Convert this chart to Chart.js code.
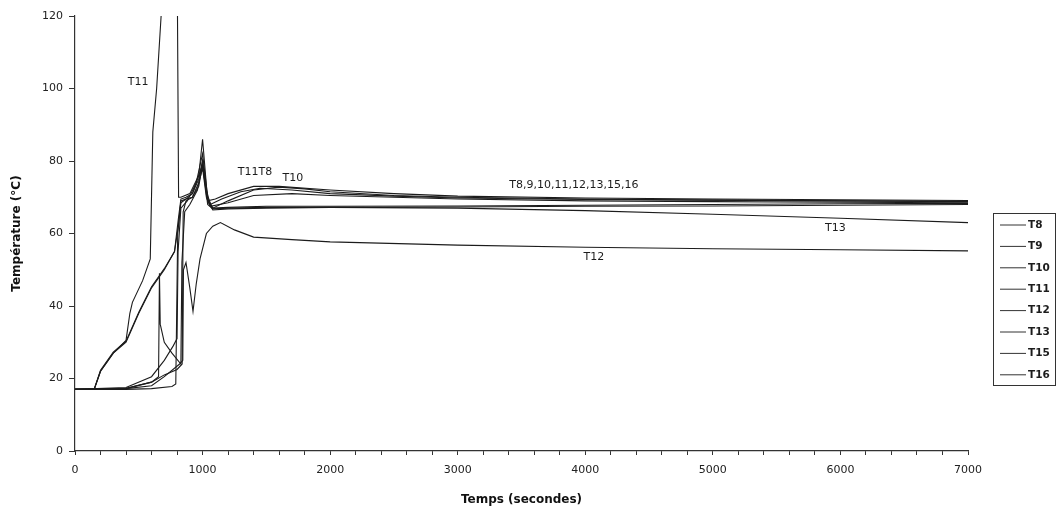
<!DOCTYPE html>
<html>
<head>
<meta charset="utf-8">
<script src="https://cdn.jsdelivr.net/npm/chart.js@4.4.1/dist/chart.umd.min.js"></script>
<style>
  html, body { margin: 0; padding: 0; background: #fff; }
  #wrap { width: 1062px; height: 511px; }
</style>
</head>
<body>
<div id="wrap"><canvas id="mycanvas" width="1062" height="511"></canvas></div>
<script>
// temps (s) et températures (°C)
var t8Time  = [0, 400, 600, 760, 790, 805, 830, 870, 920, 970, 1000, 1030, 1060, 1150, 1300, 1450, 1700, 2000, 2500, 3000, 4000, 5000, 6000, 7000];
var t8Temp  = [17, 17, 17.2, 17.8, 18.5, 60, 68.5, 69.5, 71, 75, 80, 72, 68, 69.5, 71.5, 72.5, 72, 71, 70.3, 69.8, 69.4, 69.2, 69, 68.9];

var t9Time  = [0, 400, 600, 700, 800, 840, 848, 870, 920, 970, 1000, 1030, 1060, 1200, 1400, 1700, 2000, 3000, 4000, 5000, 6000, 7000];
var t9Temp  = [17, 17.3, 19, 21, 22.5, 24, 66, 69, 70, 74, 78, 70, 67.5, 68.5, 70.5, 71, 70.5, 69.5, 69, 68.8, 68.6, 68.5];

var t10Time = [0, 400, 600, 700, 770, 800, 808, 830, 880, 950, 1000, 1040, 1080, 1200, 1400, 1600, 1800, 2000, 2500, 3000, 4000, 5000, 6000, 7000];
var t10Temp = [17, 17.5, 20.5, 25, 29, 31, 55, 67, 69, 74, 82, 70, 67, 69, 72, 72.8, 72.3, 71.5, 70.5, 70, 69.5, 69.2, 69, 68.8];

var t11Time = [0, 150, 200, 300, 400, 430, 450, 530, 590, 610, 640, 675, 700, 800, 812, 830, 900, 970, 1000, 1040, 1100, 1200, 1400, 1600, 2000, 2500, 3000, 4000, 5000, 6000, 7000];
var t11Temp = [17, 17, 22, 27, 30.5, 38, 41, 47, 53, 88, 100, 120, 140, 140, 70, 70, 71, 76, 79, 69, 69.5, 71, 73, 73, 72, 71, 70.3, 69.8, 69.5, 69.3, 69.1];

var t12Time = [0, 400, 600, 700, 820, 845, 850, 870, 900, 925, 950, 980, 1030, 1080, 1140, 1250, 1400, 1700, 2000, 3000, 4000, 5000, 6000, 7000];
var t12Temp = [17, 17.2, 18, 20.5, 24, 25, 50, 52, 45, 38.5, 46, 53, 60, 62, 63, 61, 59, 58.3, 57.7, 56.8, 56.2, 55.8, 55.5, 55.2];

var t13Time = [0, 400, 600, 655, 662, 668, 700, 760, 830, 838, 860, 900, 960, 1000, 1040, 1080, 1200, 1500, 2000, 3000, 4000, 5000, 6000, 7000];
var t13Temp = [17, 17.2, 19, 20.5, 49, 35, 30, 27, 24, 52, 66, 68, 72, 80, 69, 66.5, 66.8, 67, 67.2, 67, 66.3, 65.3, 64.2, 63];

var t15Time = [0, 150, 200, 300, 400, 500, 600, 700, 780, 810, 830, 870, 920, 970, 1000, 1040, 1080, 1200, 1500, 2000, 3000, 4000, 5000, 6000, 7000];
var t15Temp = [17, 17, 22, 27, 30, 38, 45, 50, 55, 62, 69, 69.5, 70, 73, 79, 68, 66.8, 67, 67.2, 67.2, 67.3, 67.5, 67.6, 67.8, 68];

var t16Time = [0, 150, 200, 300, 400, 500, 600, 700, 780, 810, 830, 870, 920, 970, 1000, 1040, 1080, 1200, 1500, 2000, 3000, 4000, 5000, 6000, 7000];
var t16Temp = [17, 17, 22.3, 27.3, 30.3, 38.3, 45.3, 50.3, 55, 64, 69.5, 70, 71, 76, 86, 69, 67, 67.2, 67.5, 67.5, 67.6, 67.8, 68, 68.2, 68.3];

var seriesNames = ["T8", "T9", "T10", "T11", "T12", "T13", "T15", "T16"];
var seriesTimes = [t8Time, t9Time, t10Time, t11Time, t12Time, t13Time, t15Time, t16Time];
var seriesTemps = [t8Temp, t9Temp, t10Temp, t11Temp, t12Temp, t13Temp, t15Temp, t16Temp];

// étiquettes posées sur le graphique (x en s, y en °C)
var noteTexts = ["T11", "T11T8", "T10", "T8,9,10,11,12,13,15,16", "T13", "T12"];
var noteTimes = [494, 1411, 1708, 3911, 5960, 4067];
var noteTemps = [101.8, 77, 75.3, 73.4, 61.6, 53.5];

var FONT = "'DejaVu Sans', 'Liberation Sans', Arial, sans-serif";

function pairs(xs, ys) {
    var out = [];
    for (var i = 0; i < xs.length; i++) {
        out.push({x: xs[i], y: ys[i]});
    }
    return out;
}

var datasets = [];
for (var i = 0; i < seriesNames.length; i++) {
    datasets.push({
        label: seriesNames[i],
        data: pairs(seriesTimes[i], seriesTemps[i]),
        borderColor: "#1c1c1c",
        borderWidth: 1.1,
        pointRadius: 0,
        fill: false,
        tension: 0
    });
}

// étiquettes dans la zone du tracé
var notesPlugin = {
    id: "notes",
    afterDatasetsDraw: function (chart) {
        var ctx = chart.ctx;
        var xs = chart.scales.x, ys = chart.scales.y;
        ctx.save();
        ctx.fillStyle = "#1c1c1c";
        ctx.font = "11px " + FONT;
        ctx.textAlign = "center";
        ctx.textBaseline = "middle";
        for (var i = 0; i < noteTexts.length; i++) {
            ctx.fillText(noteTexts[i], xs.getPixelForValue(noteTimes[i]), ys.getPixelForValue(noteTemps[i]));
        }
        ctx.restore();
    }
};

// légende encadrée à droite
var boxLegend = {
    id: "boxLegend",
    afterDraw: function (chart) {
        var ctx = chart.ctx;
        var left = 993, top = 213, w = 62, h = 172, step = 21.4;
        ctx.save();
        ctx.strokeStyle = "#333";
        ctx.lineWidth = 1;
        ctx.strokeRect(left + 0.5, top + 0.5, w, h);
        ctx.font = "bold 10.5px " + FONT;
        ctx.textBaseline = "middle";
        ctx.fillStyle = "#1c1c1c";
        chart.data.datasets.forEach(function (ds, k) {
            var y = top + 12 + k * step;
            ctx.beginPath();
            ctx.moveTo(left + 7, y);
            ctx.lineTo(left + 33, y);
            ctx.stroke();
            ctx.fillText(ds.label, left + 35, y);
        });
        ctx.restore();
    }
};

var ctx = document.getElementById("mycanvas");
var chart = new Chart(ctx, {
    type: "line",
    data: { datasets: datasets },
    plugins: [notesPlugin, boxLegend],
    options: {
        responsive: false,
        animation: false,
        layout: { padding: { left: 4, right: 94, top: 16, bottom: 4 } },
        plugins: {
            legend: { display: false },
            tooltip: { enabled: false }
        },
        scales: {
            x: {
                type: "linear",
                min: 0,
                max: 7000,
                border: { color: "#333", width: 1.2 },
                grid: { display: true, drawOnChartArea: false, drawTicks: true, tickLength: 4, color: "#333" },
                ticks: {
                    stepSize: 200,
                    autoSkip: false,
                    maxRotation: 0,
                    color: "#222",
                    font: { family: FONT, size: 11 },
                    padding: 9,
                    callback: function (v) { return v % 1000 === 0 ? v : ""; }
                },
                title: {
                    display: true,
                    text: "Temps (secondes)",
                    color: "#111",
                    font: { family: FONT, size: 12, weight: "bold" },
                    padding: { top: 2, bottom: 0 }
                },
                afterFit: function (scale) { scale.height = 56; }
            },
            y: {
                min: 0,
                max: 120,
                border: { color: "#333", width: 1.2 },
                grid: { display: true, drawOnChartArea: false, drawTicks: true, tickLength: 6, color: "#333" },
                ticks: {
                    stepSize: 20,
                    color: "#222",
                    font: { family: FONT, size: 11 },
                    padding: 6
                },
                title: {
                    display: true,
                    text: "Température (°C)",
                    color: "#111",
                    font: { family: FONT, size: 12, weight: "bold" },
                    padding: { top: 6, bottom: 4 }
                },
                afterFit: function (scale) { scale.width = 71; }
            }
        }
    }
});
</script>
</body>
</html>
